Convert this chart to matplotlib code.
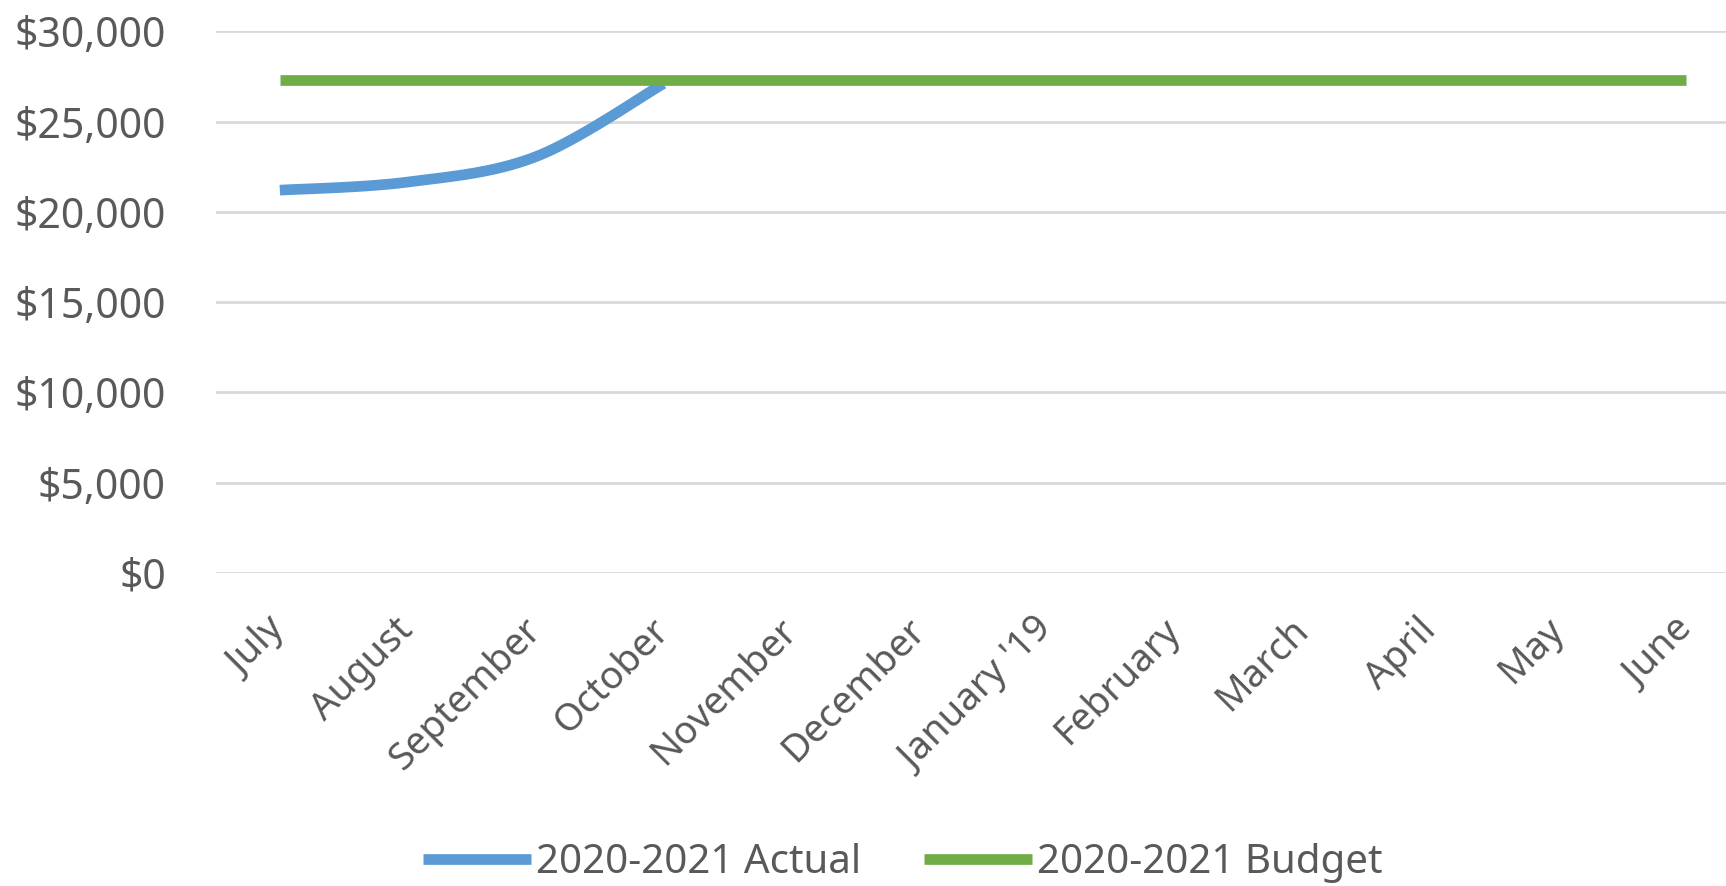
import numpy as np
import matplotlib.pyplot as plt
from matplotlib.ticker import FuncFormatter

months = ['July', 'August', 'September', 'October', 'November', 'December',
          "January '19", 'February', 'March', 'April', 'May', 'June']
actual = [21200, 21650, 23050, 27100]
budget = [27300] * 12


def smooth(xs, ys, n=30):
    # excel style smoothed line (catmull-rom through the points)
    xs = np.asarray(xs, float)
    ys = np.asarray(ys, float)
    px = np.concatenate([[xs[0]], xs, [xs[-1]]])
    py = np.concatenate([[ys[0]], ys, [ys[-1]]])
    out_x, out_y = [], []
    t = np.linspace(0, 1, n)
    for i in range(1, len(px) - 2):
        p0, p1, p2, p3 = px[i - 1], px[i], px[i + 1], px[i + 2]
        q0, q1, q2, q3 = py[i - 1], py[i], py[i + 1], py[i + 2]
        c1x, c1y = p1 + (p2 - p0) / 6, q1 + (q2 - q0) / 6
        c2x, c2y = p2 - (p3 - p1) / 6, q2 - (q3 - q1) / 6
        bx = (1 - t)**3 * p1 + 3 * (1 - t)**2 * t * c1x + 3 * (1 - t) * t**2 * c2x + t**3 * p2
        by = (1 - t)**3 * q1 + 3 * (1 - t)**2 * t * c1y + 3 * (1 - t) * t**2 * c2y + t**3 * q2
        out_x.extend(bx)
        out_y.extend(by)
    return out_x, out_y


plt.rcParams['font.family'] = ['Noto Sans', 'DejaVu Sans']
grey = '#595959'

fig = plt.figure(figsize=(17.26, 8.86), dpi=100)
ax = fig.add_axes([0.1251, 0.3533, 0.889, 0.6114])

x = np.arange(len(months))
sx, sy = smooth(x[:len(actual)], actual)
ax.plot(sx, sy, color='#5b9bd5', lw=7.7, solid_capstyle='butt',
        label='2020-2021 Actual', zorder=3)
ax.plot(x, budget, color='#70ad47', lw=7.7, solid_capstyle='butt',
        label='2020-2021 Budget', zorder=4)

ax.set_xlim(-0.5, len(months) - 0.5)
ax.set_ylim(0, 30000)
ax.set_yticks(range(0, 30001, 5000))
ax.yaxis.set_major_formatter(FuncFormatter(lambda v, p: f'${v:,.0f}'))
ax.grid(axis='y', color='#d9d9d9', lw=2)
ax.set_axisbelow(True)
for s in ax.spines.values():
    s.set_visible(False)

ax.set_xticks(x)
ax.set_xticklabels(months, rotation=45, ha='right', va='center', rotation_mode='anchor')
ax.tick_params(axis='x', length=0, pad=37, labelsize=27.5, labelcolor=grey)
ax.tick_params(axis='y', length=0, pad=36, labelsize=29.5, labelcolor=grey)

fig.legend(loc='center', bbox_to_anchor=(0.523, 0.026), ncol=2, frameon=False,
           fontsize=29, labelcolor=grey, handlelength=2.7, handletextpad=0.12,
           columnspacing=1.55)

fig.savefig('out.png', dpi=100)
